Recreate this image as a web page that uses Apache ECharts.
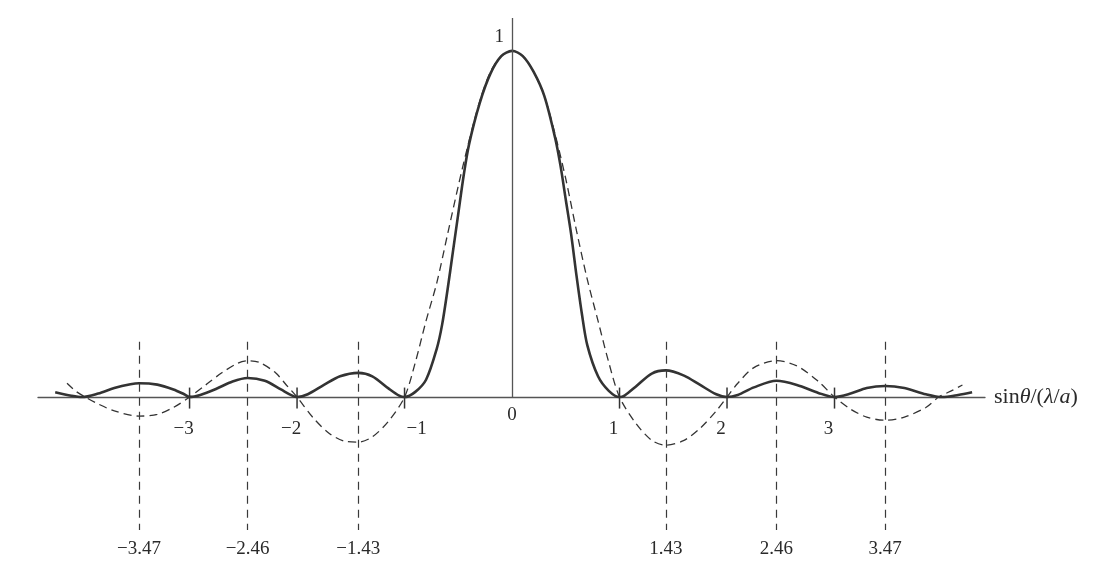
<!DOCTYPE html>
<html>
<head>
<meta charset="utf-8">
<script src="https://cdn.jsdelivr.net/npm/echarts@6/dist/echarts.min.js"></script>
<style>
  html, body { margin: 0; padding: 0; background: #fff; }
  #chart { width: 1109px; height: 581px; }
</style>
</head>
<body>
<div id="chart"></div>
<script>
// intensity curve (solid)
const solidX = [-4.25, -4.1, -4.0, -3.85, -3.7, -3.55, -3.47, -3.3, -3.15, -3.05, -3.0,
  -2.9, -2.75, -2.6, -2.46, -2.3, -2.15, -2.05, -2.0,
  -1.9, -1.75, -1.6, -1.43, -1.3, -1.15, -1.05, -1.0,
  -0.9, -0.8, -0.7, -0.65, -0.6, -0.55, -0.5, -0.45, -0.4, -0.3, -0.2, -0.1, 0,
  0.1, 0.2, 0.3, 0.4, 0.45, 0.5, 0.55, 0.6, 0.65, 0.7, 0.8, 0.9, 1.0,
  1.05, 1.15, 1.3, 1.43, 1.6, 1.75, 1.9, 2.0,
  2.1, 2.25, 2.46, 2.65, 2.85, 3.0,
  3.15, 3.3, 3.47, 3.65, 3.85, 4.0, 4.15, 4.28];
const solidY = [0.014, 0.004, 0, 0.01, 0.026, 0.037, 0.04, 0.036, 0.022, 0.008, 0,
  0.006, 0.024, 0.045, 0.055, 0.047, 0.022, 0.005, 0,
  0.008, 0.035, 0.06, 0.07, 0.06, 0.025, 0.004, 0,
  0.015, 0.05, 0.14, 0.21, 0.31, 0.42, 0.53, 0.64, 0.73, 0.85, 0.935, 0.985, 1,
  0.985, 0.94, 0.87, 0.75, 0.67, 0.57, 0.47, 0.35, 0.24, 0.15, 0.06, 0.018, 0,
  0.005, 0.03, 0.068, 0.077, 0.062, 0.035, 0.008, 0,
  0.006, 0.028, 0.047, 0.035, 0.012, 0,
  0.01, 0.026, 0.032, 0.026, 0.008, 0, 0.006, 0.014];

// amplitude curve (dashed)
const dashX = [-4.14, -4.05, -3.97, -3.85, -3.7, -3.47, -3.3, -3.15, -3.0,
  -2.85, -2.7, -2.55, -2.46, -2.35, -2.2, -2.1, -2.0,
  -1.85, -1.7, -1.55, -1.43, -1.3, -1.15, -1.0,
  -0.9, -0.8, -0.7, -0.6, -0.5, -0.4, -0.3, -0.2, -0.1, 0,
  0.1, 0.2, 0.3, 0.4, 0.5, 0.6, 0.7, 0.8, 0.9, 1.0,
  1.15, 1.3, 1.43, 1.6, 1.75, 1.9, 2.0,
  2.1, 2.25, 2.46, 2.65, 2.85, 3.0,
  3.15, 3.3, 3.47, 3.65, 3.85, 3.97, 4.1, 4.19];
const dashY = [0.04, 0.015, 0, -0.02, -0.04, -0.055, -0.05, -0.03, 0,
  0.035, 0.07, 0.098, 0.105, 0.1, 0.07, 0.035, 0,
  -0.06, -0.105, -0.128, -0.13, -0.115, -0.07, 0,
  0.1, 0.22, 0.33, 0.47, 0.61, 0.74, 0.855, 0.94, 0.985, 1,
  0.985, 0.94, 0.87, 0.76, 0.63, 0.48, 0.34, 0.22, 0.1, 0,
  -0.075, -0.125, -0.139, -0.125, -0.09, -0.04, 0,
  0.04, 0.085, 0.105, 0.09, 0.045, 0,
  -0.035, -0.058, -0.067, -0.058, -0.03, 0, 0.02, 0.035];

const tickValues = [-3, -2, -1, 1, 2, 3];
const peakValues = [-3.47, -2.46, -1.43, 1.43, 2.46, 3.47];
const peakLabels = ['−3.47', '−2.46', '−1.43', '1.43', '2.46', '3.47'];

const xMin = -4.41, xMax = 4.4;
const yMin = -0.384, yMax = 1.095;
const guideTop = 0.16;

const ink = '#333';
const textInk = '#2a2a2a';
const font = '"Liberation Serif", "DejaVu Serif", serif';

const zip = (xs, ys) => xs.map((x, i) => [x, ys[i]]);
const fmtMinus = v => (v < 0 ? '−' + Math.abs(v) : String(v));

const chart = echarts.init(document.getElementById('chart'));

chart.setOption({
  animation: false,
  grid: { left: 38, right: 124, top: 18, bottom: 51 },
  xAxis: {
    type: 'value', min: xMin, max: xMax,
    axisLine: { show: true, onZero: true, lineStyle: { color: '#555', width: 1.3 } },
    axisTick: { show: false }, axisLabel: { show: false }, splitLine: { show: false },
    name: '{n|sin}{i|θ}{n|/(}{i|λ}{n|/}{i|a}{n|)}',
    nameLocation: 'end', nameGap: 9,
    nameTextStyle: {
      rich: {
        n: { fontFamily: font, fontSize: 22, color: textInk },
        i: { fontFamily: font, fontSize: 22, fontStyle: 'italic', color: textInk }
      }
    }
  },
  yAxis: {
    type: 'value', min: yMin, max: yMax,
    axisLine: { show: false }, axisTick: { show: false },
    axisLabel: { show: false }, splitLine: { show: false }
  },
  series: [
    {
      name: 'amplitude', type: 'line', data: zip(dashX, dashY),
      smooth: 0.3, showSymbol: false, z: 3,
      lineStyle: { color: ink, width: 1.3, type: [8, 5] }
    },
    {
      name: 'intensity', type: 'line', data: zip(solidX, solidY),
      smooth: 0.3, showSymbol: false, z: 4,
      lineStyle: { color: ink, width: 2.6 }
    },
    {
      name: 'guides', type: 'line', data: [], silent: true,
      markLine: {
        silent: true, symbol: 'none',
        data: [
          // vertical axis
          [{ coord: [0, 0], lineStyle: { type: 'solid', width: 1.3, color: '#555' }, label: { show: false } },
           { coord: [0, yMax] }]
        ].concat(peakValues.map((v, i) => [
          { coord: [v, guideTop],
            lineStyle: { type: [8, 6], width: 1.2, color: '#3a3a3a' },
            label: { show: true, position: 'end', distance: 10, formatter: peakLabels[i],
                     fontFamily: font, fontSize: 19, color: textInk } },
          { coord: [v, yMin] }
        ]))
      }
    },
    {
      name: 'ticks', type: 'scatter', silent: true,
      data: tickValues.map(v => [v, 0]),
      symbol: 'rect', symbolSize: [1.5, 21], symbolOffset: [0, 1],
      itemStyle: { color: '#333', opacity: 1 },
      label: {
        show: true, position: 'bottom', distance: 11,
        fontFamily: font, fontSize: 19, color: textInk, opacity: 1,
        formatter: p => fmtMinus(p.value[0])
      },
      labelLayout: p => {
        const v = tickValues[p.dataIndex];
        return { dx: v === -1 ? 12 : -6 };
      }
    },
    {
      name: 'axisText', type: 'scatter', silent: true, symbolSize: 0,
      itemStyle: { opacity: 1 },
      data: [
        { value: [0, 0], label: { position: 'bottom', distance: 8, formatter: '0' } },
        { value: [0, 1], label: { position: 'left', distance: 8, offset: [0, -14], formatter: '1' } }
      ],
      label: { show: true, fontFamily: font, fontSize: 19, color: textInk, opacity: 1 }
    }
  ]
});
</script>
</body>
</html>
